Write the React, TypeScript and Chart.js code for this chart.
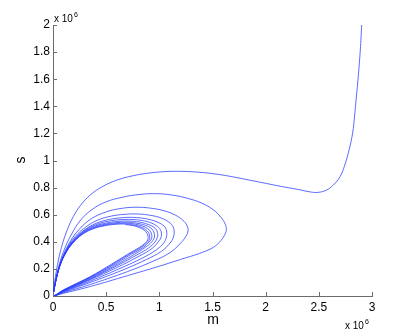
import React, { useEffect, useRef } from "react";
import { Chart, registerables } from "chart.js";

Chart.register(...registerables);

// Axis ticks (values in units of 10^6)
const xTicks = [0, 0.5, 1, 1.5, 2, 2.5, 3];
const xTickLabels = ["0", "0.5", "1", "1.5", "2", "2.5", "3"];
const yTicks = [0, 0.2, 0.4, 0.6, 0.8, 1, 1.2, 1.4, 1.6, 1.8, 2];
const yTickLabels = ["0", "0.2", "0.4", "0.6", "0.8", "1", "1.2", "1.4", "1.6", "1.8", "2"];
const xTitle = "m";
const yTitle = "s";
const exponentBase = "x 10";
const exponentPower = "6";

type P = [number, number]; // [m, s] in units of 10^6

const startArc: P[] = [
  [2.903, 2.0], [2.897, 1.91], [2.89, 1.815], [2.872, 1.63], [2.85, 1.446], [2.835, 1.32],
  [2.818, 1.203], [2.784, 1.077], [2.739, 0.954], [2.699, 0.88], [2.636, 0.819], [2.573, 0.782],
  [2.495, 0.765], [2.42, 0.768], [2.3, 0.787], [2.15, 0.808], [2.01, 0.83], [1.85, 0.855],
  [1.7, 0.878], [1.55, 0.898], [1.38, 0.913], [1.2, 0.92], [1.05, 0.918], [0.9, 0.907],
  [0.755, 0.888], [0.6, 0.855], [0.46, 0.805], [0.35, 0.745], [0.26, 0.67], [0.19, 0.585],
  [0.13, 0.48], [0.08, 0.36], [0.042, 0.23], [0.015, 0.1], [0, 0],
];
const loop1: P[] = [
  [0.1, 0.02], [0.35, 0.07], [0.7, 0.15], [1.0, 0.22], [1.2, 0.27], [1.38, 0.315],
  [1.51, 0.36], [1.58, 0.41], [1.62, 0.46], [1.63, 0.49], [1.62, 0.53], [1.58, 0.58],
  [1.51, 0.635], [1.4, 0.685], [1.26, 0.722], [1.12, 0.745], [0.975, 0.755], [0.82, 0.75],
  [0.66, 0.73], [0.5, 0.695], [0.37, 0.64], [0.26, 0.56], [0.17, 0.45], [0.1, 0.33],
  [0.048, 0.2], [0.015, 0.075], [0, 0],
];
const loop2: P[] = [
  [0.1, 0.025], [0.35, 0.085], [0.7, 0.18], [0.95, 0.26], [1.1, 0.32], [1.2, 0.39],
  [1.25, 0.44], [1.27, 0.48], [1.26, 0.52], [1.22, 0.56], [1.15, 0.597], [1.05, 0.628],
  [0.92, 0.648], [0.78, 0.655], [0.63, 0.645], [0.49, 0.618], [0.36, 0.57], [0.25, 0.495],
  [0.16, 0.4], [0.09, 0.285], [0.04, 0.16], [0.012, 0.055], [0, 0],
];
const loop3: P[] = [
  [0.1, 0.03], [0.35, 0.1], [0.65, 0.19], [0.88, 0.27], [1.02, 0.33], [1.1, 0.39],
  [1.13, 0.43], [1.14, 0.47], [1.13, 0.51], [1.09, 0.545], [1.02, 0.575], [0.92, 0.595],
  [0.8, 0.605], [0.68, 0.603], [0.55, 0.59], [0.42, 0.56], [0.31, 0.51], [0.21, 0.44],
  [0.135, 0.355], [0.075, 0.25], [0.033, 0.135], [0.009, 0.045], [0, 0],
];
const loop4: P[] = [
  [0.1, 0.033], [0.35, 0.11], [0.62, 0.2], [0.84, 0.28], [0.97, 0.34], [1.04, 0.39],
  [1.065, 0.43], [1.07, 0.46], [1.06, 0.5], [1.02, 0.53], [0.95, 0.555], [0.86, 0.572],
  [0.76, 0.58], [0.65, 0.578], [0.53, 0.565], [0.41, 0.538], [0.3, 0.49], [0.2, 0.42],
  [0.127, 0.338], [0.068, 0.235], [0.03, 0.125], [0.008, 0.04], [0, 0],
];
const loop5: P[] = [
  [0.1, 0.036], [0.35, 0.12], [0.6, 0.21], [0.8, 0.29], [0.93, 0.35], [0.99, 0.4],
  [1.015, 0.43], [1.02, 0.455], [1.01, 0.49], [0.97, 0.52], [0.91, 0.543], [0.83, 0.558],
  [0.74, 0.565], [0.63, 0.563], [0.52, 0.552], [0.4, 0.526], [0.29, 0.48], [0.195, 0.41],
  [0.122, 0.327], [0.065, 0.226], [0.028, 0.118], [0.007, 0.037], [0, 0],
];
const loop6: P[] = [
  [0.1, 0.038], [0.35, 0.125], [0.58, 0.215], [0.77, 0.295], [0.9, 0.355], [0.96, 0.4],
  [0.98, 0.43], [0.985, 0.45], [0.975, 0.485], [0.94, 0.512], [0.88, 0.532], [0.81, 0.546],
  [0.72, 0.553], [0.62, 0.551], [0.51, 0.54], [0.39, 0.515], [0.285, 0.47], [0.19, 0.402],
  [0.119, 0.321], [0.063, 0.221], [0.027, 0.115], [0.007, 0.036], [0, 0],
];
const loop7: P[] = [
  [0.1, 0.04], [0.35, 0.13], [0.57, 0.22], [0.75, 0.3], [0.87, 0.36], [0.93, 0.4],
  [0.95, 0.425], [0.955, 0.445], [0.945, 0.478], [0.915, 0.504], [0.86, 0.524], [0.79, 0.537],
  [0.71, 0.544], [0.61, 0.542], [0.5, 0.531], [0.385, 0.507], [0.28, 0.463], [0.187, 0.396],
  [0.117, 0.316], [0.062, 0.218], [0.026, 0.112], [0.007, 0.035], [0, 0],
];
const loop8: P[] = [
  [0.1, 0.042], [0.35, 0.135], [0.56, 0.225], [0.73, 0.305], [0.85, 0.36], [0.905, 0.4],
  [0.925, 0.42], [0.93, 0.44], [0.92, 0.472], [0.89, 0.497], [0.84, 0.517], [0.775, 0.53],
  [0.7, 0.537], [0.6, 0.535], [0.49, 0.524], [0.38, 0.501], [0.277, 0.458], [0.185, 0.391],
  [0.115, 0.312], [0.061, 0.215], [0.026, 0.11], [0.006, 0.034], [0, 0],
];
const loop9: P[] = [
  [0.1, 0.044], [0.35, 0.14], [0.55, 0.228], [0.71, 0.305], [0.83, 0.36], [0.885, 0.395],
  [0.905, 0.415], [0.91, 0.435], [0.9, 0.466], [0.87, 0.491], [0.82, 0.511], [0.76, 0.524],
  [0.69, 0.531], [0.59, 0.529], [0.485, 0.518], [0.375, 0.495], [0.273, 0.453], [0.183, 0.387],
  [0.114, 0.309], [0.06, 0.213], [0.025, 0.109], [0.006, 0.033], [0, 0],
];
const loop10: P[] = [
  [0.1, 0.046], [0.35, 0.143], [0.54, 0.23], [0.7, 0.307], [0.815, 0.36], [0.87, 0.393],
  [0.89, 0.412], [0.895, 0.43], [0.885, 0.461], [0.857, 0.486], [0.81, 0.506], [0.75, 0.52],
  [0.68, 0.527],
];

const segments: P[][] = [startArc, loop1, loop2, loop3, loop4, loop5, loop6, loop7, loop8, loop9, loop10];

const FONT = "'Liberation Sans', Arial, Helvetica, sans-serif";
const AXIS_COLOR = "#6b6b6b";
const LINE_COLOR = "rgba(40, 60, 255, 0.85)";

const decorPlugin = {
  id: "decor",
  afterDraw(chart: any) {
    const { ctx, chartArea, scales } = chart;
    const xs = scales.x;
    const ys = scales.y;
    ctx.save();
    // inward tick marks
    ctx.strokeStyle = AXIS_COLOR;
    ctx.lineWidth = 1;
    ctx.beginPath();
    xTicks.forEach((v) => {
      const px = Math.round(xs.getPixelForValue(v)) + 0.5;
      ctx.moveTo(px, chartArea.bottom);
      ctx.lineTo(px, chartArea.bottom - 4);
    });
    yTicks.forEach((v) => {
      const py = Math.round(ys.getPixelForValue(v)) + 0.5;
      ctx.moveTo(chartArea.left, py);
      ctx.lineTo(chartArea.left + 4, py);
    });
    ctx.stroke();

    ctx.fillStyle = "#000";
    // axis titles
    ctx.font = `14px ${FONT}`;
    ctx.textAlign = "center";
    ctx.textBaseline = "middle";
    ctx.fillText(xTitle, 213, 320);
    ctx.save();
    ctx.translate(21, 160);
    ctx.rotate(-Math.PI / 2);
    ctx.fillText(yTitle, 0, 0);
    ctx.restore();

    // exponent labels
    const drawExp = (x: number, baseline: number) => {
      ctx.textAlign = "left";
      ctx.textBaseline = "alphabetic";
      ctx.font = `10px ${FONT}`;
      ctx.fillText(exponentBase, x, baseline);
      const w = ctx.measureText(exponentBase).width;
      ctx.font = `7px ${FONT}`;
      ctx.fillText(exponentPower, x + w + 1, baseline - 5);
    };
    drawExp(chartArea.left + 1, 22);
    drawExp(345, 329);
    ctx.restore();
  },
};

export default function App() {
  const ref = useRef<HTMLCanvasElement | null>(null);

  useEffect(() => {
    if (!ref.current) return;
    const data = segments.flat().map(([m, s]) => ({ x: m, y: s }));
    const chart = new Chart(ref.current, {
      type: "scatter",
      data: {
        datasets: [
          {
            data,
            showLine: true,
            borderColor: LINE_COLOR,
            borderWidth: 0.9,
            pointRadius: 0,
            tension: 0.4,
            fill: false,
          },
        ],
      },
      options: {
        responsive: false,
        animation: false,
        events: [],
        layout: { padding: { left: 0, top: 25, right: 39, bottom: 0 } },
        plugins: { legend: { display: false }, tooltip: { enabled: false } },
        scales: {
          x: {
            type: "linear",
            min: 0,
            max: 3,
            afterFit: (s: any) => {
              s.height = 38;
            },
            afterBuildTicks: (s: any) => {
              s.ticks = xTicks.map((v) => ({ value: v }));
            },
            ticks: {
              autoSkip: false,
              maxRotation: 0,
              padding: 4,
              color: "#000",
              font: { family: FONT, size: 12 },
              callback: (_v: any, i: number) => xTickLabels[i],
            },
            grid: { display: true, drawOnChartArea: false, drawTicks: false },
            border: { display: true, color: AXIS_COLOR, width: 1 },
          },
          y: {
            type: "linear",
            min: 0,
            max: 2,
            afterFit: (s: any) => {
              s.width = 53;
            },
            afterBuildTicks: (s: any) => {
              s.ticks = yTicks.map((v) => ({ value: v }));
            },
            ticks: {
              autoSkip: false,
              padding: 3,
              color: "#000",
              font: { family: FONT, size: 12 },
              callback: (_v: any, i: number) => yTickLabels[i],
            },
            grid: { display: true, drawOnChartArea: false, drawTicks: false },
            border: { display: true, color: AXIS_COLOR, width: 1 },
          },
        },
      },
      plugins: [decorPlugin],
    });
    return () => chart.destroy();
  }, []);

  return (
    <div style={{ position: "absolute", left: 0, top: 0, width: 411, height: 334, background: "#fff" }}>
      <canvas ref={ref} width={411} height={334} style={{ display: "block" }} />
    </div>
  );
}
